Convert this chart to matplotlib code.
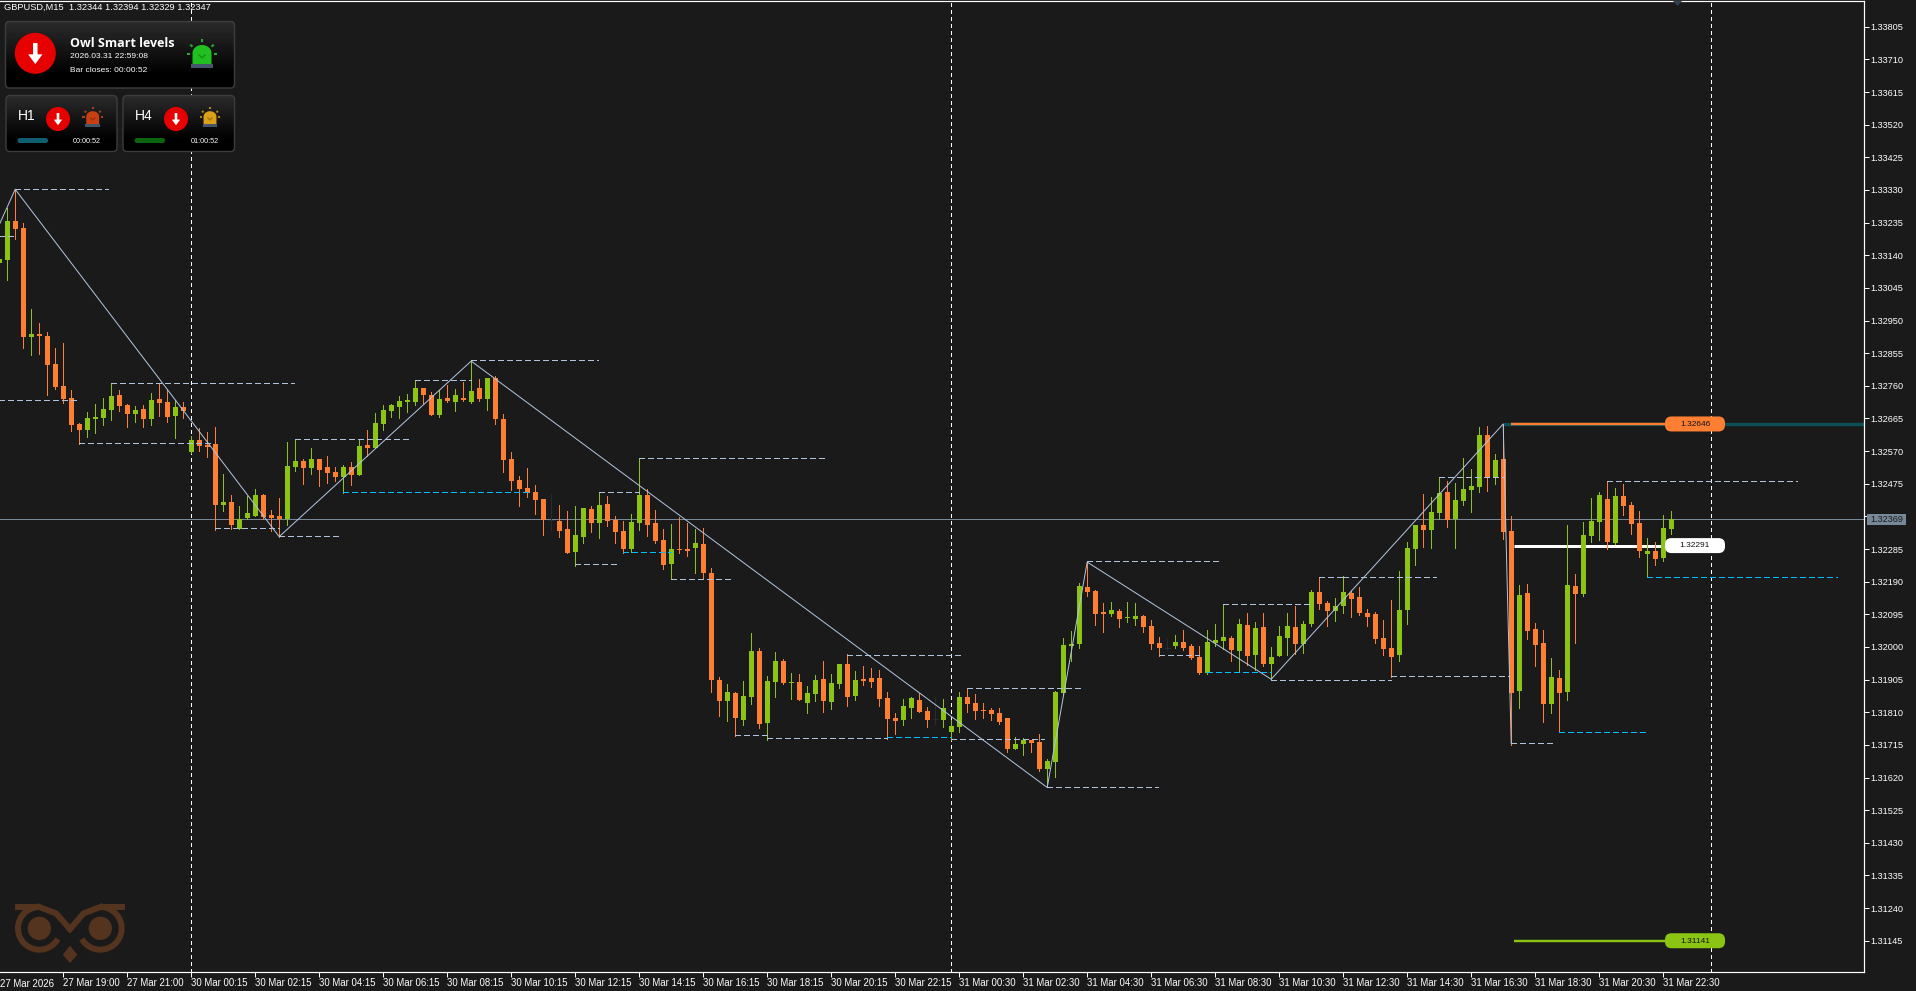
import numpy as np
import matplotlib
matplotlib.use("Agg")
import matplotlib.pyplot as plt
from matplotlib.patches import FancyBboxPatch, Circle, Polygon, Rectangle

plt.rcParams["font.family"] = ["Liberation Sans", "DejaVu Sans"]

# M15 candles in points (1 point = 0.00001), first bar is index -1
opens = [133117, 133127, 133240, 133219, 132902, 132911, 132905, 132823, 132759, 132725,
         132649, 132631, 132663, 132666, 132690, 132733, 132704, 132678, 132693, 132663,
         132722, 132713, 132672, 132698, 132567, 132602, 132588, 132591, 132413, 132422,
         132343, 132375, 132381, 132442, 132384, 132381, 132372, 132524, 132541, 132521,
         132547, 132524, 132509, 132495, 132524, 132500, 132588, 132579, 132649, 132687,
         132698, 132713, 132713, 132754, 132733, 132675, 132725, 132713, 132725, 132713,
         132754, 132722, 132782, 132663, 132547, 132486, 132462, 132451, 132430, 132370,
         132366, 132343, 132276, 132320, 132401, 132360, 132416, 132369, 132337, 132285,
         132360, 132442, 132360, 132311, 132241, 132285, 132285, 132288, 132299, 132215,
         131904, 131842, 131866, 131787, 131854, 131988, 131778, 131898, 131959, 131895,
         131898, 131837, 131863, 131906, 131840, 131892, 131950, 131857, 131906, 131909,
         131909, 131851, 131793, 131787, 131822, 131845, 131813, 131791, 131787, 131752,
         131767, 131854, 131837, 131816, 131816, 131807, 131793, 131703, 131717, 131729,
         131723, 131645, 131665, 131866, 132002, 132008, 132174, 132162, 132101, 132096,
         132104, 132084, 132081, 132090, 132061, 132011, 131998, 132002, 132014, 132002,
         131970, 131924, 132011, 132017, 132026, 131988, 132064, 131976, 132058, 131950,
         131973, 132026, 132058, 132008, 132066, 132160, 132128, 132104, 132119, 132157,
         132145, 132098, 132096, 132026, 131997, 131976, 132107, 132285, 132355, 132341,
         132390, 132451, 132372, 132425, 132457, 132466, 132617, 132492, 132547, 132338,
         131872, 132157, 132053, 132012, 131834, 131910, 131869, 132178, 132154, 132323,
         132364, 132431, 132303, 132440, 132413, 132361, 132271, 132280, 132259, 132344]

highs = [133140, 133277, 133332, 133234, 132984, 132943, 132917, 132870, 132885, 132748,
         132652, 132684, 132707, 132725, 132767, 132748, 132707, 132701, 132704, 132739,
         132767, 132751, 132719, 132713, 132614, 132637, 132626, 132640, 132503, 132442,
         132410, 132439, 132460, 132445, 132399, 132433, 132596, 132604, 132547, 132579,
         132547, 132556, 132524, 132530, 132538, 132604, 132631, 132681, 132704, 132707,
         132730, 132736, 132777, 132754, 132742, 132748, 132762, 132751, 132771, 132832,
         132780, 132783, 132788, 132678, 132567, 132497, 132520, 132471, 132430, 132445,
         132413, 132395, 132410, 132404, 132410, 132450, 132439, 132381, 132366, 132387,
         132549, 132459, 132398, 132343, 132358, 132378, 132360, 132343, 132346, 132229,
         131912, 131892, 131869, 131901, 132040, 131997, 131915, 131985, 131965, 131924,
         131921, 131886, 131918, 131959, 131921, 131950, 131979, 131930, 131944, 131938,
         131933, 131869, 131808, 131848, 131854, 131866, 131825, 131854, 131848, 131787,
         131869, 131882, 131863, 131837, 131822, 131822, 131793, 131738, 131735, 131729,
         131746, 131674, 131871, 132026, 132046, 132186, 132247, 132165, 132128, 132130,
         132110, 132130, 132128, 132093, 132078, 132029, 132023, 132034, 132049, 132008,
         132002, 132049, 132066, 132124, 132032, 132081, 132098, 132072, 132098, 131999,
         132061, 132098, 132119, 132075, 132165, 132203, 132133, 132142, 132206, 132165,
         132174, 132110, 132101, 132078, 132136, 132221, 132305, 132355, 132445, 132437,
         132494, 132483, 132477, 132550, 132518, 132640, 132643, 132562, 132649, 132381,
         132181, 132184, 132070, 132050, 131968, 131933, 132355, 132213, 132364, 132434,
         132451, 132482, 132463, 132475, 132422, 132396, 132317, 132306, 132384, 132396]

lows = [133100, 133068, 133187, 132870, 132850, 132853, 132733, 132751, 132710, 132628,
        132591, 132611, 132623, 132646, 132660, 132687, 132640, 132655, 132640, 132646,
        132672, 132655, 132608, 132666, 132564, 132570, 132553, 132340, 132396, 132343,
        132343, 132372, 132381, 132372, 132337, 132321, 132355, 132512, 132474, 132503,
        132468, 132477, 132483, 132447, 132471, 132500, 132556, 132579, 132631, 132669,
        132666, 132684, 132704, 132710, 132675, 132669, 132713, 132687, 132716, 132710,
        132716, 132690, 132649, 132509, 132457, 132410, 132436, 132387, 132326, 132340,
        132320, 132273, 132235, 132302, 132334, 132317, 132352, 132302, 132273, 132276,
        132340, 132323, 132302, 132228, 132197, 132273, 132264, 132215, 132198, 131869,
        131799, 131784, 131741, 131773, 131834, 131764, 131729, 131854, 131892, 131848,
        131845, 131808, 131842, 131810, 131819, 131880, 131828, 131845, 131889, 131883,
        131828, 131732, 131746, 131773, 131793, 131810, 131767, 131776, 131767, 131729,
        131752, 131810, 131790, 131793, 131787, 131775, 131694, 131703, 131685, 131694,
        131639, 131591, 131621, 131860, 131959, 131997, 132148, 132064, 132043, 132090,
        132058, 132072, 132064, 132043, 131994, 131973, 131994, 131997, 131991, 131965,
        131921, 131921, 132002, 131994, 131959, 131930, 131947, 131933, 131944, 131906,
        131973, 131976, 131979, 131982, 132061, 132110, 132061, 132075, 132098, 132087,
        132093, 132061, 132011, 131976, 131914, 131959, 132066, 132239, 132291, 132288,
        132373, 132349, 132288, 132413, 132393, 132451, 132454, 132475, 132315, 131715,
        131823, 132024, 131945, 131782, 131808, 131752, 131846, 132012, 132149, 132306,
        132312, 132285, 132300, 132384, 132329, 132262, 132203, 132239, 132250, 132329]

closes = [133129, 133240, 133216, 132902, 132911, 132905, 132821, 132757, 132722, 132646,
          132631, 132666, 132669, 132693, 132730, 132701, 132678, 132690, 132663, 132719,
          132710, 132669, 132698, 132687, 132602, 132585, 132582, 132413, 132422, 132355,
          132372, 132390, 132442, 132378, 132375, 132372, 132527, 132541, 132521, 132547,
          132515, 132506, 132495, 132524, 132500, 132585, 132579, 132652, 132690, 132704,
          132716, 132719, 132754, 132733, 132675, 132722, 132716, 132733, 132719, 132745,
          132722, 132783, 132663, 132544, 132483, 132459, 132448, 132427, 132369, 132370,
          132337, 132273, 132326, 132404, 132360, 132413, 132366, 132334, 132285, 132363,
          132442, 132355, 132308, 132238, 132285, 132282, 132279, 132302, 132215, 131904,
          131842, 131869, 131793, 131857, 131988, 131776, 131901, 131959, 131895, 131898,
          131845, 131866, 131904, 131842, 131895, 131950, 131854, 131904, 131901, 131898,
          131848, 131790, 131784, 131828, 131851, 131810, 131787, 131791, 131822, 131770,
          131854, 131834, 131813, 131813, 131805, 131781, 131703, 131717, 131729, 131720,
          131645, 131668, 131869, 132005, 132008, 132177, 132160, 132096, 132096, 132107,
          132081, 132087, 132090, 132058, 132008, 131997, 131998, 132014, 131997, 131967,
          131924, 132014, 132020, 132029, 131991, 132066, 131973, 132055, 131950, 131970,
          132032, 132061, 132008, 132066, 132160, 132125, 132104, 132119, 132160, 132139,
          132098, 132087, 132023, 131994, 131970, 132107, 132288, 132355, 132341, 132393,
          132448, 132370, 132428, 132460, 132469, 132617, 132492, 132544, 132335, 131866,
          132152, 132047, 132006, 131834, 131913, 131866, 132181, 132154, 132326, 132367,
          132443, 132306, 132440, 132411, 132358, 132280, 132280, 132256, 132346, 132373]

# zigzag swing points
swing_bars = [-3, 1, 34, 58, 130, 135, 158, 187, 188]
swing_prices = [133125, 133332, 132321, 132832, 131591, 132247, 131906, 132649, 131720]

# dashed levels: first bar, last bar, price
pale_start = [-1, -1, 1, 13, 9, 26, 34, 36, 51, 58, 74, 79, 71, 83, 91, 95, 105, 118, 120,
              130, 135, 144, 152, 158, 164, 167, 173, 179, 188, 200]
pale_end = [1, 8.9, 12.6, 35.8, 25.7, 34, 41.8, 50.6, 58, 73.9, 79, 102.6, 76.6, 90.9, 95,
            110, 119.6, 129.6, 134.6, 143.9, 151.9, 149, 163, 173, 167, 178.6, 187.7, 187,
            193.6, 223.7]
pale_price = [133195, 132718, 133332, 132767, 132595, 132345, 132322, 132604, 132776, 132834,
              132450, 132549, 132240, 132199, 131745, 131734, 131978, 131731, 131882, 131591,
              132249, 131978, 132124, 131905, 132203, 132205, 131915, 132494, 131720, 132482]
cyan_start = [42, 77, 110, 150, 194, 205]
cyan_end = [65.3, 83, 118, 158, 205, 228.7]
cyan_price = [132450, 132275, 131737, 131926, 131752, 132203]

day_breaks = [23, 118, 213]

price_ticks = [1.31145, 1.31240, 1.31335, 1.31430, 1.31525, 1.31620, 1.31715, 1.31810,
               1.31905, 1.32000, 1.32095, 1.32190, 1.32285, 1.32380, 1.32475, 1.32570,
               1.32665, 1.32760, 1.32855, 1.32950, 1.33045, 1.33140, 1.33235, 1.33330,
               1.33425, 1.33520, 1.33615, 1.33710, 1.33805]
# the tick under the current price box shows no text
hidden_tick = 1.32380
time_labels = ["27 Mar 2026", "27 Mar 19:00", "27 Mar 21:00", "30 Mar 00:15", "30 Mar 02:15",
               "30 Mar 04:15", "30 Mar 06:15", "30 Mar 08:15", "30 Mar 10:15", "30 Mar 12:15",
               "30 Mar 14:15", "30 Mar 16:15", "30 Mar 18:15", "30 Mar 20:15", "30 Mar 22:15",
               "31 Mar 00:30", "31 Mar 02:30", "31 Mar 04:30", "31 Mar 06:30", "31 Mar 08:30",
               "31 Mar 10:30", "31 Mar 12:30", "31 Mar 14:30", "31 Mar 16:30", "31 Mar 18:30",
               "31 Mar 20:30", "31 Mar 22:30"]

bid_price = 1.32372
bid_text = "1.32369"
upper_level, upper_text = 1.32649, "1.32646"
mid_level, mid_text = 1.32295, "1.32291"
lower_level, lower_text = 1.31145, "1.31141"

BG = "#1a1a1a"
UP = "#8cc414"
DOWN = "#ff7f32"
DOJI = "#232c38"
PALE = "#b0c4de"
CYAN = "#00bfff"
PX = 0.72  # one pixel in points at dpi 100

W, H = 1916, 991
fig = plt.figure(figsize=(W / 100, H / 100), dpi=100, facecolor=BG)
ax = fig.add_axes([0, (H - 972) / H, 1864 / W, 971 / H], facecolor=BG)
ax.set_xlim(-0.9, 232.1)
ax.set_ylim(1.31054, 1.33880)

bars = np.arange(len(opens)) - 1
o = np.array(opens) / 1e5
h = np.array(highs) / 1e5
l = np.array(lows) / 1e5
c = np.array(closes) / 1e5

up = c > o
down = c < o
flat = c == o
for mask, col in [(up, UP), (down, DOWN), (flat, DOJI)]:
    ax.vlines(bars[mask], l[mask], h[mask], color=col, lw=PX, zorder=3, antialiased=False)
ax.bar(bars[up], (c - o)[up], bottom=o[up], width=0.625, color=UP, lw=0, zorder=3.1, antialiased=False)
ax.bar(bars[down], (c - o)[down], bottom=o[down], width=0.625, color=DOWN, lw=0, zorder=3.1, antialiased=False)
ax.hlines(c[flat], bars[flat] - 0.31, bars[flat] + 0.31, color=DOJI, lw=PX, zorder=3.1, antialiased=False)

# bid line and day separators
ax.axhline(bid_price, color="#778899", lw=PX, zorder=1, antialiased=False)
for b in day_breaks:
    ax.axvline(b, color="white", lw=PX, dashes=(4, 3), zorder=1, antialiased=False)

# zigzag and dashed levels
ax.plot(swing_bars, np.array(swing_prices) / 1e5, color=PALE, lw=PX, zorder=4)
ax.hlines(np.array(pale_price) / 1e5, pale_start, pale_end, color=PALE, lw=1.2 * PX,
          linestyles=[(0, (4.2, 2.5))], zorder=4, antialiased=False)
ax.hlines(np.array(cyan_price) / 1e5, cyan_start, cyan_end, color=CYAN, lw=1.2 * PX,
          linestyles=[(0, (4.2, 2.5))], zorder=4, antialiased=False)

# thick target lines
label_bar = 207.2
ax.plot([187, 232.1], [upper_level] * 2, color="#0d4f58", lw=3.4 * PX, zorder=1.4, solid_capstyle="butt")
ax.plot([188, label_bar], [upper_level] * 2, color=DOWN, lw=2.4 * PX, zorder=1.5, solid_capstyle="butt")
ax.plot([188.3, label_bar], [mid_level] * 2, color="white", lw=3 * PX, zorder=1.5, solid_capstyle="butt")
ax.plot([188.3, label_bar], [lower_level] * 2, color=UP, lw=2.4 * PX, zorder=1.5, solid_capstyle="butt")

# axes
ax.spines["left"].set_visible(False)
for side in ["right", "bottom", "top"]:
    ax.spines[side].set_color("white")
    ax.spines[side].set_linewidth(PX * 1.2)
ax.yaxis.tick_right()
ax.set_yticks(price_ticks)
ax.set_yticklabels(["" if p == hidden_tick else "%.5f" % p for p in price_ticks])
ax.tick_params(axis="y", direction="out", length=3.4, width=PX, color="white", labelcolor="white",
               labelsize=6.6, pad=1.5)
tick_bars = [7 + 8 * i for i in range(len(time_labels) - 1)]
ax.set_xticks(tick_bars)
ax.set_xticklabels(time_labels[1:], ha="left")
ax.tick_params(axis="x", direction="out", length=3.4, width=PX, color="white", labelcolor="white",
               labelsize=6.9, pad=1)
ax.text(-0.9, -0.0068, time_labels[0], transform=ax.get_xaxis_transform(), color="white",
        fontsize=6.9, ha="left", va="top", clip_on=False)

# overlay in pixel coordinates for the panels and labels
fig.canvas.draw()
def price_px(p):
    return H - ax.transData.transform((0, p))[1]

ov = fig.add_axes([0, 0, 1, 1], facecolor="none", zorder=10)
ov.set_axis_off()

def panel(x0, y0, x1, y1):
    grad = np.linspace(0, 1, 64).reshape(-1, 1)
    top = np.array([0.17, 0.17, 0.17])
    img = (top * (1 - np.clip(grad / 0.8, 0, 1))[..., None])
    im = ov.imshow(img, extent=(x0, x1, y1, y0), aspect="auto", zorder=1)
    box = FancyBboxPatch((x0, y0), x1 - x0, y1 - y0, boxstyle="round,pad=0,rounding_size=4",
                         fc="none", ec="#3d3d3d", lw=1.4 * PX, zorder=2)
    ov.add_patch(box)
    im.set_clip_path(box)

def red_arrow(cx, cy, r):
    ov.add_patch(Circle((cx, cy), r, fc="#e60000", ec="none", zorder=3))
    s = r / 20.0
    ov.add_patch(Polygon([(cx - 2.2 * s, cy - 10 * s), (cx + 2.2 * s, cy - 10 * s), (cx + 2.2 * s, cy + 1 * s),
                          (cx + 7 * s, cy + 1 * s), (cx, cy + 10.5 * s), (cx - 7 * s, cy + 1 * s),
                          (cx - 2.2 * s, cy + 1 * s)], fc="white", ec="none", zorder=4))

def siren(cx, cy, s, col, ray):
    t = np.linspace(np.pi, 0, 30)
    rx = 9.5 * s
    dome = [(cx - rx, cy + 9 * s)] + [(cx + rx * np.cos(a), cy - 2 * s - 8 * s * np.sin(a)) for a in t] + [(cx + rx, cy + 9 * s)]
    ov.add_patch(Polygon(dome, fc=col, ec="none", zorder=3))
    ov.add_patch(Rectangle((cx - 11 * s, cy + 9 * s), 22 * s, 4 * s, fc="#46566a", ec="none", zorder=3))
    ov.plot([cx - 3 * s, cx, cx + 3 * s], [cy, cy + 3 * s, cy], color="black", alpha=0.25, lw=1, zorder=4)
    for a in [0, 38, 90, 142, 180]:
        ca, sa = np.cos(np.radians(a)), np.sin(np.radians(a))
        ov.plot([cx + 12 * s * ca, cx + 15 * s * ca], [cy - 1 * s - 12 * s * sa, cy - 1 * s - 15 * s * sa],
                color=ray, lw=1.5, zorder=3, solid_capstyle="butt")

panel(5.5, 21.5, 234.5, 88)
panel(6, 95.5, 117, 151.5)
panel(123, 95.5, 234.5, 151.5)

red_arrow(35.3, 53.3, 20.5)
red_arrow(58, 119, 12)
red_arrow(176, 119, 12)
siren(202, 55, 1.0, "#20c020", "#2fa82f")
siren(92.7, 118, 0.68, "#c8400f", "#a5441c")
siren(210, 118, 0.68, "#dca01a", "#b0851e")

ov.text(70.5, 43.5, "Owl Smart levels", color="white", fontsize=9, fontweight="bold", family="Open Sans",
        va="center", ha="left", zorder=5)
ov.text(70.5, 57, "2026.03.31 22:59:08", color="white", fontsize=6.1, va="center", ha="left", zorder=5)
ov.text(70.5, 70, "Bar closes: 00:00:52", color="white", fontsize=6, va="center", ha="left", zorder=5)
ov.text(18.3, 116, "H1", color="white", fontsize=10, va="center", ha="left", zorder=5)
ov.text(135, 116, "H4", color="white", fontsize=10, va="center", ha="left", zorder=5)
ov.text(72.7, 141.5, "00:00:52", color="white", fontsize=5.2, va="center", ha="left", zorder=5)
ov.text(190.7, 141.5, "01:00:52", color="white", fontsize=5.2, va="center", ha="left", zorder=5)
ov.add_patch(FancyBboxPatch((17.5, 138), 30.5, 5, boxstyle="round,pad=0,rounding_size=2.4", fc="#0f5f70", ec="none", zorder=3))
ov.add_patch(FancyBboxPatch((134.5, 138), 30.5, 5, boxstyle="round,pad=0,rounding_size=2.4", fc="#0b6410", ec="none", zorder=3))

ov.text(3.6, 7.5, "GBPUSD,M15  1.32344 1.32394 1.32329 1.32347", color="white", fontsize=6.7, va="center", ha="left", zorder=5)

# chart shift marker on the top edge
ov.add_patch(Polygon([(1673, 1), (1682, 1), (1677.5, 6)], fc="#2f3f4f", ec="none", zorder=3))

# price pills on the right
for price, text, col in [(upper_level, upper_text, DOWN), (mid_level, mid_text, "white"), (lower_level, lower_text, UP)]:
    py = price_px(price)
    ov.add_patch(FancyBboxPatch((1665, py - 7.5), 60, 15, boxstyle="round,pad=0,rounding_size=6.5", fc=col, ec="none", zorder=3))
    ov.text(1695, py + 0.3, text, color="#111111", fontsize=6, ha="center", va="center", zorder=5)

# current price box
py = price_px(bid_price)
ov.add_patch(Rectangle((1867, py - 5.5), 39.5, 11, fc="#778899", ec="none", zorder=3))
ov.text(1886.5, py + 0.3, bid_text, color="#1a1a1a", fontsize=6.6, ha="center", va="center", zorder=5)

OWL = "#54331f"
def zx(X):
    return np.asarray(X) / 3.0
def zy(Y):
    return 880 + np.asarray(Y) / 3.0
lw_owl = 6 * PX
arc = np.radians(np.linspace(90, -150, 60))
for ex, sign in [(118, -1), (301, 1)]:
    ov.add_patch(Circle((zx(ex), zy(145)), 35 / 3, fc=OWL, ec="none", zorder=3))
    ov.plot(zx(ex + sign * 64 * np.cos(arc)), zy(145 - 64 * np.sin(arc)), color=OWL, lw=lw_owl, zorder=3, solid_capstyle="butt")
    ov.plot(zx([ex + sign * 74, ex]), zy([81, 81]), color=OWL, lw=lw_owl, zorder=3, solid_capstyle="butt")
    ov.plot(zx([ex, ex - sign * 50, 210]), zy([81, 100, 147]), color=OWL, lw=lw_owl, zorder=3, solid_joinstyle="round")
ov.add_patch(Polygon(list(zip(zx([210, 232, 210, 188]), zy([197, 224, 250, 224]))), fc=OWL, ec="none", zorder=3))

ov.set_xlim(0, W)
ov.set_ylim(H, 0)

fig.savefig("out.png", dpi=100, facecolor=BG)
